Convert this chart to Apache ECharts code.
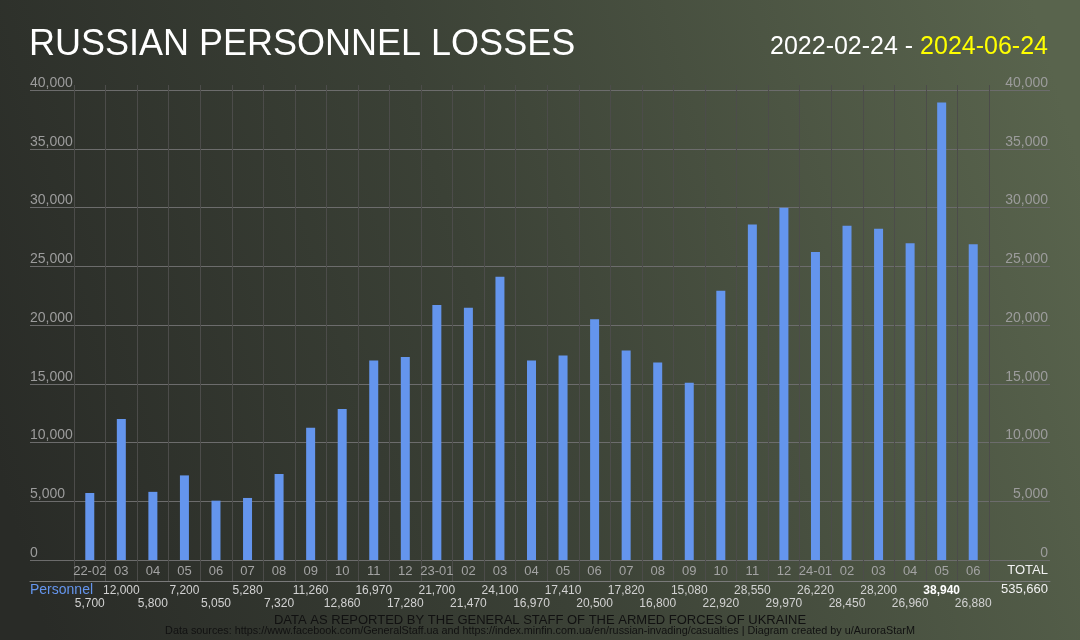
<!DOCTYPE html>
<html>
<head>
<meta charset="utf-8">
<script src="https://cdn.jsdelivr.net/npm/echarts@6/dist/echarts.min.js"></script>
<style>
html,body{margin:0;padding:0;background:#2a2c28;}
#chart{width:1080px;height:640px;}
</style>
</head>
<body>
<div id="chart"></div>
<script>
const categories = ['22-02','03','04','05','06','07','08','09','10','11','12',
  '23-01','02','03','04','05','06','07','08','09','10','11','12',
  '24-01','02','03','04','05','06'];
const personnel = [5700,12000,5800,7200,5050,5280,7320,11260,12860,16970,17280,
  21700,21470,24100,16970,17410,20500,17820,16800,15080,22920,28550,29970,
  26220,28450,28200,26960,38940,26880];
const seriesName = 'Personnel';
const titleText = 'RUSSIAN PERSONNEL LOSSES';
const dateStart = '2022-02-24';
const dateEnd = '2024-06-24';
const footer1 = 'DATA AS REPORTED BY THE GENERAL STAFF OF THE ARMED FORCES OF UKRAINE';
const footer2 = 'Data sources: https://www.facebook.com/GeneralStaff.ua and https://index.minfin.com.ua/en/russian-invading/casualties | Diagram created by u/AuroraStarM';
const totalLabel = 'TOTAL';

const FONT = '"Liberation Sans", Arial, sans-serif';
const fmt = v => Number(v).toLocaleString('en-US');
const total = personnel.reduce((a, b) => a + b, 0);
const maxVal = Math.max(...personnel);

function valueLabel(i) {
  const v = personnel[i];
  return v === maxVal ? '{b|' + fmt(v) + '}' : fmt(v);
}
const richBold = { b: { fontWeight: 'bold', color: '#ffffff', fontSize: 12, fontFamily: FONT } };

const chart = echarts.init(document.getElementById('chart'));
chart.setOption({
  backgroundColor: {
    type: 'linear', x: 0, y: 0.75, x2: 1, y2: 0.25,
    colorStops: [
      { offset: 0, color: '#292b27' },
      { offset: 0.45, color: '#3b4136' },
      { offset: 1, color: '#59644d' }
    ]
  },
  textStyle: { fontFamily: FONT },
  title: [
    { text: titleText, left: 29, top: 27, padding: 0,
      textStyle: { color: '#ffffff', fontSize: 36, fontWeight: 'normal', fontFamily: FONT } },
    { text: '{a|' + dateStart + ' - }{b|' + dateEnd + '}', right: 32, top: 35, padding: 0,
      textStyle: { fontSize: 25, fontWeight: 'normal', fontFamily: FONT,
        rich: { a: { color: '#ffffff', fontSize: 25, fontWeight: 'normal', fontFamily: FONT },
                b: { color: '#ffff00', fontSize: 25, fontWeight: 'normal', fontFamily: FONT } } } },
    { text: seriesName, left: 30, top: 583, padding: 0,
      textStyle: { color: '#6495ED', fontSize: 14, fontWeight: 'normal', fontFamily: FONT } },
    { text: totalLabel, right: 32, top: 564, padding: 0,
      textStyle: { color: '#f2f2f2', fontSize: 13, fontWeight: 'normal', fontFamily: FONT } },
    { text: fmt(total), right: 32, top: 583, padding: 0,
      textStyle: { color: '#f2f2f2', fontSize: 13, fontWeight: 'normal', fontFamily: FONT } },
    { text: footer1, left: 'center', top: 614, padding: 0,
      textStyle: { color: '#111111', fontSize: 13, fontWeight: 'normal', fontFamily: FONT } },
    { text: footer2, left: 'center', top: 626, padding: 0,
      textStyle: { color: '#111111', fontSize: 10.8, fontWeight: 'normal', fontFamily: FONT } }
  ],
  grid: [
    { left: 74, right: 91, top: 90, bottom: 80 },
    { left: 30, right: 30, top: 90, bottom: 80 },
    { left: 74, right: 91, top: 85, bottom: 59 },
    { left: 30, right: 30, top: 85, bottom: 59 }
  ],
  xAxis: [
    { gridIndex: 0, type: 'category', data: categories, position: 'bottom',
      axisLine: { show: false }, axisTick: { show: false }, splitLine: { show: false },
      axisLabel: { interval: 0, margin: 5, color: '#a3a3a3', fontSize: 13, fontFamily: FONT } },
    { gridIndex: 0, type: 'category', data: categories, position: 'bottom',
      axisLine: { show: false }, axisTick: { show: false }, splitLine: { show: false },
      axisLabel: { interval: 0, margin: 25, color: '#d2d2d2', fontSize: 12, fontFamily: FONT,
        formatter: (v, i) => (i % 2 === 1 ? valueLabel(i) : ''), rich: richBold } },
    { gridIndex: 0, type: 'category', data: categories, position: 'bottom',
      axisLine: { show: false }, axisTick: { show: false }, splitLine: { show: false },
      axisLabel: { interval: 0, margin: 38, color: '#d2d2d2', fontSize: 12, fontFamily: FONT,
        formatter: (v, i) => (i % 2 === 0 ? valueLabel(i) : ''), rich: richBold } },
    { gridIndex: 1, type: 'category', data: categories, show: false },
    { gridIndex: 2, type: 'category', data: categories,
      axisLine: { show: false }, axisTick: { show: false }, axisLabel: { show: false },
      splitLine: { show: true, interval: 0, lineStyle: { color: '#4c4c4a', width: 1 } } },
    { gridIndex: 3, type: 'category', data: categories,
      axisLine: { show: true, lineStyle: { color: '#7a7a7a', width: 1 } },
      axisTick: { show: false }, axisLabel: { show: false }, splitLine: { show: false } }
  ],
  yAxis: [
    { gridIndex: 0, type: 'value', min: 0, max: 40000, interval: 5000, show: false },
    { gridIndex: 1, type: 'value', min: 0, max: 40000, interval: 5000, position: 'left',
      axisLine: { show: false }, axisTick: { show: false },
      splitLine: { show: true, lineStyle: { color: '#6c6c6c', width: 1 } },
      axisLabel: { inside: true, margin: 0, align: 'left', verticalAlign: 'bottom', lineHeight: 14,
        fontSize: 14, color: '#9c9c9c', fontFamily: FONT, formatter: fmt,
        showMinLabel: true, showMaxLabel: true } },
    { gridIndex: 1, type: 'value', min: 0, max: 40000, interval: 5000, position: 'right',
      axisLine: { show: false }, axisTick: { show: false }, splitLine: { show: false },
      axisLabel: { inside: true, margin: 2, align: 'right', verticalAlign: 'bottom', lineHeight: 14,
        fontSize: 14, color: '#9c9c9c', fontFamily: FONT, formatter: fmt,
        showMinLabel: true, showMaxLabel: true } },
    { gridIndex: 2, type: 'value', show: false },
    { gridIndex: 3, type: 'value', show: false }
  ],
  series: [
    { name: seriesName, type: 'bar', xAxisIndex: 0, yAxisIndex: 0, data: personnel,
      barWidth: 9, itemStyle: { color: '#6495ED' }, animation: false }
  ],
  animation: false
});
</script>
</body>
</html>
